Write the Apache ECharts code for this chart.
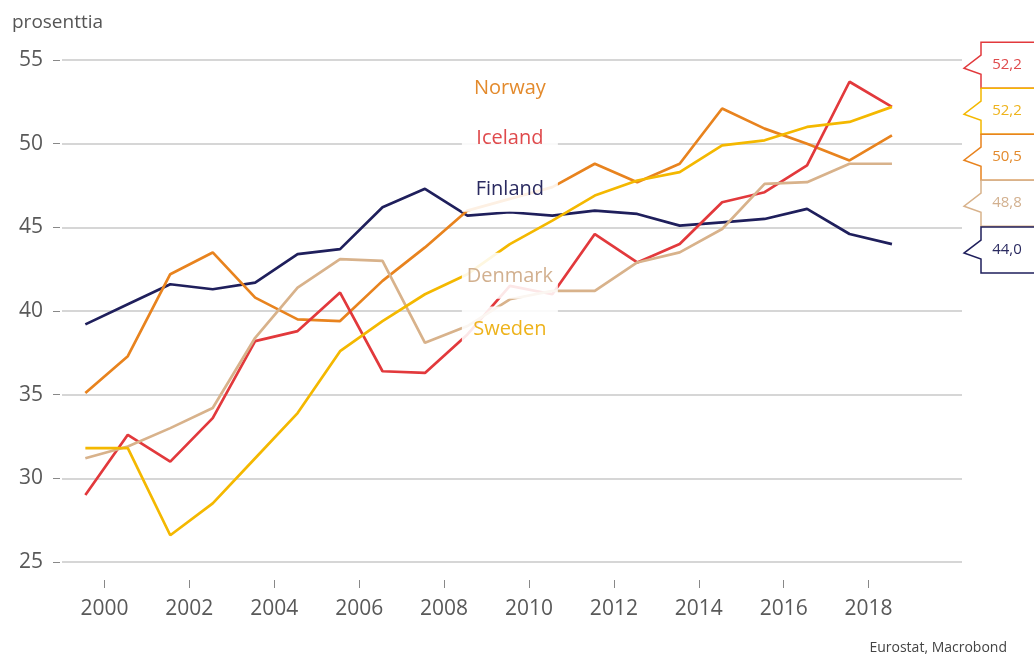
<!DOCTYPE html>
<html>
<head>
<meta charset="utf-8">
<script src="https://cdn.jsdelivr.net/npm/echarts@6/dist/echarts.min.js"></script>
<style>
  html, body { margin: 0; padding: 0; background: #fff; }
  #chart { width: 1034px; height: 664px; }
</style>
</head>
<body>
<div id="chart"></div>
<script>
var years = [1999, 2000, 2001, 2002, 2003, 2004, 2005, 2006, 2007, 2008,
             2009, 2010, 2011, 2012, 2013, 2014, 2015, 2016, 2017, 2018];
var tickYears = [2000, 2002, 2004, 2006, 2008, 2010, 2012, 2014, 2016, 2018];

var finland = [39.2, 40.4, 41.6, 41.3, 41.7, 43.4, 43.7, 46.2, 47.3, 45.7,
               45.9, 45.7, 46.0, 45.8, 45.1, 45.3, 45.5, 46.1, 44.6, 44.0];
var norway  = [35.1, 37.3, 42.2, 43.5, 40.8, 39.5, 39.4, 41.8, 43.8, 46.0,
               46.7, 47.4, 48.8, 47.7, 48.8, 52.1, 50.9, 50.0, 49.0, 50.5];
var iceland = [29.0, 32.6, 31.0, 33.6, 38.2, 38.8, 41.1, 36.4, 36.3, 38.6,
               41.5, 41.0, 44.6, 42.9, 44.0, 46.5, 47.1, 48.7, 53.7, 52.2];
var denmark = [31.2, 31.9, 33.0, 34.2, 38.4, 41.4, 43.1, 43.0, 38.1, 39.1,
               40.7, 41.2, 41.2, 42.9, 43.5, 44.9, 47.6, 47.7, 48.8, 48.8];
var sweden  = [31.8, 31.8, 26.6, 28.5, 31.2, 33.9, 37.6, 39.4, 41.0, 42.2,
               44.0, 45.4, 46.9, 47.8, 48.3, 49.9, 50.2, 51.0, 51.3, 52.2];

var font = '"Open Sans", "Noto Sans", sans-serif';
var xMin = 1999, xMax = 2020.2;
var H = 46; // height of one end flag

var chart = echarts.init(document.getElementById('chart'));

// one line + a name box (white patch over the lines) per country
var countries = [
  { name: 'Finland', values: finland, color: '#1f1f5c', text: '#2a2a60', labelY: 47.3 },
  { name: 'Norway',  values: norway,  color: '#e8831e', text: '#e38a2c', labelY: 53.3 },
  { name: 'Iceland', values: iceland, color: '#e2393c', text: '#df4a4c', labelY: 50.3 },
  { name: 'Denmark', values: denmark, color: '#d8b28b', text: '#d2b08f', labelY: 42.1 },
  { name: 'Sweden',  values: sweden,  color: '#f4b800', text: '#eeb31c', labelY: 38.9 }
];

var lineSeries = countries.map(function (c) {
  return {
    name: c.name,
    type: 'line',
    symbol: 'none',
    z: 2,
    lineStyle: { width: 2.7, color: c.color },
    itemStyle: { color: c.color },
    data: years.map(function (y, i) { return [y + 0.55, c.values[i]]; }),
    markPoint: {
      silent: true,
      symbol: 'rect',
      symbolSize: [96, 46],
      itemStyle: { color: 'rgba(255,255,255,0.88)' },
      label: {
        show: true,
        position: 'inside',
        formatter: c.name,
        color: c.text,
        fontSize: 20,
        fontFamily: font
      },
      data: [{ coord: [2009.55, c.labelY] }]
    }
  };
});

// flags at the right edge, ordered top to bottom (Iceland before Sweden on ties)
var ends = [2, 4, 1, 3, 0].map(function (k) {
  var c = countries[k];
  return { value: c.values[c.values.length - 1], color: c.color, text: c.text };
});

function flagLayout(api) {
  var order = ends.map(function (e, i) { return { i: i, y: api.coord([xMax, e.value])[1] }; });
  order.sort(function (a, b) { return a.y - b.y; });
  var clusters = order.map(function (o) { return { members: [o], center: o.y }; });
  var merged = true;
  while (merged) {
    merged = false;
    for (var k = 0; k < clusters.length - 1; k++) {
      var a = clusters[k], b = clusters[k + 1];
      if (a.center + a.members.length * H / 2 > b.center - b.members.length * H / 2) {
        var m = a.members.concat(b.members);
        var c = m.reduce(function (s, o) { return s + o.y; }, 0) / m.length;
        clusters.splice(k, 2, { members: m, center: c });
        merged = true;
        break;
      }
    }
  }
  var pos = [];
  clusters.forEach(function (cl) {
    cl.members.forEach(function (o, j) {
      pos[o.i] = cl.center - (cl.members.length - 1) * H / 2 + j * H + 6;
    });
  });
  return pos;
}

var flagSeries = {
  type: 'custom',
  coordinateSystem: 'cartesian2d',
  clip: false,
  silent: true,
  z: 6,
  encode: { x: 0, y: 1 },
  data: ends.map(function (e) { return [xMax, e.value]; }),
  renderItem: function (params, api) {
    var pos = flagLayout(api);
    var e = ends[params.dataIndex];
    var tipX = api.coord([xMax, e.value])[0] + 2;
    var cy = pos[params.dataIndex];
    var bx = tipX + 17, bw = 80, h = H / 2;
    return {
      type: 'group',
      children: [
        {
          type: 'polygon',
          shape: { points: [[bx, cy - h], [bx + bw, cy - h], [bx + bw, cy + h], [bx, cy + h],
                            [bx, cy + 9], [tipX, cy + 3], [bx, cy - 10]] },
          style: { fill: '#fff', stroke: e.color, lineWidth: 1.5 }
        },
        {
          type: 'text',
          style: {
            text: e.value.toFixed(1).replace('.', ','),
            x: bx + 26, y: cy,
            align: 'center', verticalAlign: 'middle',
            fill: e.text,
            font: '15px "Open Sans", sans-serif'
          }
        }
      ]
    };
  }
};

var option = {
  animation: false,
  backgroundColor: '#fff',
  title: [
    {
      text: 'prosenttia',
      left: 7, top: 8,
      textStyle: { fontSize: 19, fontWeight: 'normal', color: '#555', fontFamily: font }
    },
    {
      text: 'Eurostat, Macrobond',
      right: 22, bottom: 4,
      textStyle: { fontSize: 14, fontWeight: 'normal', color: '#444', fontFamily: font }
    }
  ],
  grid: { left: 62, right: 72, top: 60, bottom: 102, containLabel: false },
  xAxis: {
    type: 'value',
    min: xMin,
    max: xMax,
    interval: 1,
    offset: 18,
    axisLine: { show: false },
    axisTick: { show: true, length: 8, customValues: tickYears, lineStyle: { color: '#888', width: 1 } },
    axisLabel: {
      customValues: tickYears,
      formatter: function (v) { return String(v); },
      margin: 19,
      fontSize: 21,
      color: '#595959',
      fontFamily: font
    },
    splitLine: { show: false }
  },
  yAxis: {
    type: 'value',
    min: 25,
    max: 55,
    interval: 5,
    offset: 2,
    axisLine: { show: false },
    axisTick: { show: true, length: 7, lineStyle: { color: '#888', width: 1 } },
    axisLabel: { margin: 17, fontSize: 21, color: '#595959', fontFamily: font },
    splitLine: { lineStyle: { color: '#c8c8c8', width: 1.5 } }
  },
  series: lineSeries.concat([flagSeries])
};

chart.setOption(option);
</script>
</body>
</html>
